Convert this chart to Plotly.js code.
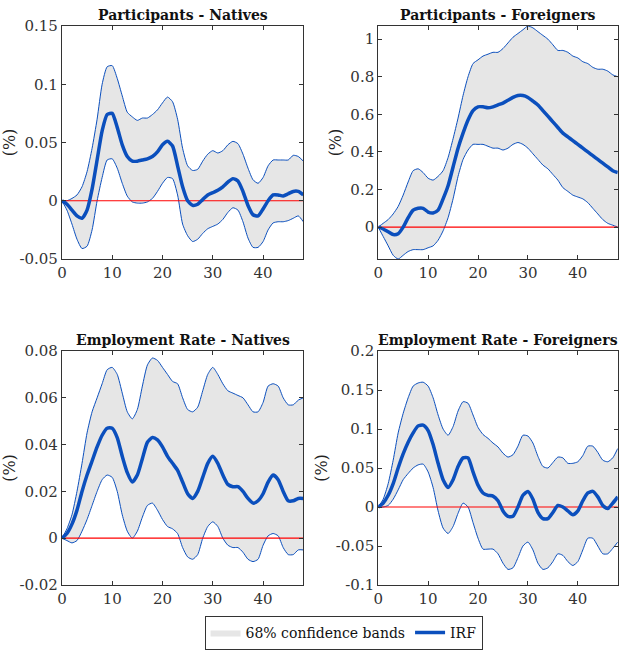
<!DOCTYPE html>
<html>
<head>
<meta charset="utf-8">
<script src="https://cdn.plot.ly/plotly-3.0.1.min.js"></script>
<style>body{margin:0}#chart{width:619px;height:650px}</style>
</head>
<body>
<div id="chart"></div>
<script>
// horizon 0..48
const steps = Array.from({length: 49}, (_, i) => i);

// Participants - Natives
const pn_irf = [0,-0.003,-0.008,-0.013,-0.015,-0.008,0.01,0.035,0.06,0.074,0.075,0.063,0.048,0.038,0.034,0.034,0.035,0.036,0.038,0.042,0.048,0.051,0.047,0.03,0.012,0,-0.004,-0.003,0.001,0.005,0.007,0.009,0.012,0.016,0.019,0.017,0.008,-0.004,-0.012,-0.013,-0.007,0,0.005,0.005,0.004,0.006,0.008,0.008,0.005];
const pn_up = [0,0,0.002,0.005,0.012,0.025,0.045,0.07,0.1,0.115,0.116,0.105,0.09,0.076,0.072,0.069,0.071,0.071,0.074,0.078,0.084,0.089,0.085,0.07,0.045,0.03,0.026,0.027,0.034,0.04,0.043,0.041,0.043,0.048,0.051,0.049,0.04,0.028,0.018,0.015,0.02,0.03,0.035,0.035,0.035,0.035,0.039,0.038,0.034];
const pn_lo = [0,-0.008,-0.02,-0.033,-0.041,-0.039,-0.025,0,0.02,0.035,0.036,0.028,0.015,0.004,-0.001,-0.002,-0.002,-0.001,0.002,0.008,0.015,0.02,0.019,0.005,-0.02,-0.03,-0.035,-0.033,-0.028,-0.024,-0.022,-0.02,-0.016,-0.01,-0.006,-0.008,-0.018,-0.032,-0.04,-0.04,-0.035,-0.025,-0.019,-0.018,-0.018,-0.017,-0.015,-0.013,-0.018];

// Participants - Foreigners
const pf_irf = [0,-0.01,-0.025,-0.04,-0.035,0,0.05,0.09,0.1,0.1,0.08,0.075,0.09,0.15,0.22,0.32,0.42,0.5,0.57,0.62,0.64,0.64,0.635,0.64,0.65,0.66,0.675,0.69,0.7,0.7,0.69,0.67,0.65,0.62,0.59,0.56,0.53,0.5,0.48,0.46,0.44,0.42,0.4,0.38,0.36,0.34,0.32,0.3,0.29];
const pf_up = [0,0.02,0.04,0.07,0.11,0.17,0.24,0.3,0.31,0.29,0.26,0.25,0.27,0.3,0.37,0.47,0.58,0.7,0.8,0.87,0.89,0.91,0.92,0.93,0.93,0.95,0.98,1.01,1.03,1.05,1.07,1.06,1.04,1.02,1.0,0.97,0.94,0.94,0.93,0.91,0.9,0.88,0.87,0.85,0.84,0.84,0.83,0.81,0.8];
const pf_lo = [0,-0.05,-0.1,-0.15,-0.17,-0.15,-0.13,-0.12,-0.12,-0.12,-0.11,-0.1,-0.07,-0.02,0.05,0.15,0.27,0.36,0.41,0.44,0.44,0.44,0.43,0.42,0.42,0.41,0.42,0.44,0.45,0.44,0.42,0.39,0.36,0.33,0.31,0.28,0.25,0.21,0.19,0.17,0.16,0.15,0.13,0.1,0.07,0.04,0.02,0.01,0];

// Employment Rate - Natives
const en_irf = [0,0.002,0.006,0.012,0.02,0.027,0.033,0.039,0.044,0.047,0.047,0.043,0.035,0.028,0.024,0.027,0.034,0.041,0.043,0.042,0.039,0.035,0.032,0.029,0.024,0.019,0.017,0.02,0.026,0.032,0.035,0.032,0.027,0.023,0.022,0.022,0.02,0.017,0.015,0.016,0.019,0.024,0.027,0.025,0.02,0.016,0.016,0.017,0.017];
const en_up = [0,0.004,0.01,0.02,0.032,0.045,0.054,0.06,0.066,0.072,0.073,0.07,0.062,0.054,0.051,0.055,0.065,0.074,0.077,0.076,0.073,0.07,0.067,0.066,0.06,0.055,0.054,0.056,0.063,0.07,0.073,0.07,0.066,0.063,0.062,0.061,0.06,0.057,0.054,0.054,0.058,0.065,0.066,0.065,0.06,0.057,0.057,0.059,0.06];
const en_lo = [0,-0.001,-0.002,-0.001,0.003,0.008,0.014,0.02,0.025,0.027,0.026,0.02,0.01,0.003,0,0.003,0.009,0.014,0.015,0.012,0.008,0.005,0.004,0.002,-0.004,-0.008,-0.009,-0.007,0,0.005,0.007,0.005,0,-0.003,-0.004,-0.004,-0.006,-0.009,-0.01,-0.009,-0.003,0.001,0.002,0.001,-0.004,-0.007,-0.007,-0.005,-0.005];

// Employment Rate - Foreigners
const ef_irf = [0,0.005,0.015,0.03,0.05,0.068,0.083,0.095,0.104,0.105,0.098,0.08,0.056,0.035,0.025,0.035,0.052,0.063,0.063,0.045,0.028,0.018,0.015,0.014,0.008,-0.005,-0.012,-0.012,0,0.015,0.02,0.01,-0.007,-0.015,-0.015,-0.007,0.002,0,-0.005,-0.01,-0.005,0.008,0.018,0.02,0.013,0.002,-0.002,0.005,0.013];
const ef_up = [0,0.01,0.03,0.06,0.095,0.12,0.14,0.155,0.159,0.16,0.155,0.14,0.118,0.1,0.092,0.103,0.123,0.135,0.133,0.118,0.102,0.093,0.088,0.082,0.077,0.069,0.064,0.067,0.078,0.092,0.091,0.082,0.065,0.052,0.05,0.057,0.064,0.063,0.056,0.056,0.058,0.066,0.078,0.078,0.07,0.06,0.058,0.063,0.075];
const ef_lo = [0,0,0.002,0.01,0.022,0.035,0.043,0.05,0.054,0.055,0.045,0.025,-0.005,-0.027,-0.034,-0.025,-0.008,0.005,0,-0.02,-0.04,-0.054,-0.054,-0.054,-0.06,-0.072,-0.08,-0.078,-0.065,-0.05,-0.045,-0.055,-0.072,-0.08,-0.078,-0.07,-0.06,-0.062,-0.07,-0.075,-0.07,-0.055,-0.04,-0.04,-0.05,-0.06,-0.06,-0.053,-0.045];

const titles = ['Participants - Natives', 'Participants - Foreigners', 'Employment Rate - Natives', 'Employment Rate - Foreigners'];
const panels = [[pn_irf, pn_up, pn_lo], [pf_irf, pf_up, pf_lo], [en_irf, en_up, en_lo], [ef_irf, ef_up, ef_lo]];

const blue = '#0b4fbd';
const font = 'DejaVu Serif';
let traces = [];

panels.forEach(function(p, i) {
  const xa = 'x' + (i ? i + 1 : '');
  const ya = 'y' + (i ? i + 1 : '');
  traces.push({
    x: steps.concat(steps.slice().reverse()),
    y: p[1].concat(p[2].slice().reverse()),
    xaxis: xa, yaxis: ya, type: 'scatter', mode: 'lines',
    fill: 'toself', fillcolor: '#e6e6e6', line: {width: 0, shape: 'spline', smoothing: 0.6},
    name: '68% confidence bands', showlegend: i === 0, hoverinfo: 'skip'
  });
  traces.push({x: steps, y: p[1], xaxis: xa, yaxis: ya, mode: 'lines', line: {color: blue, width: 1, shape: 'spline', smoothing: 0.6}, showlegend: false});
  traces.push({x: steps, y: p[2], xaxis: xa, yaxis: ya, mode: 'lines', line: {color: blue, width: 1, shape: 'spline', smoothing: 0.6}, showlegend: false});
  traces.push({x: [0, 48], y: [0, 0], xaxis: xa, yaxis: ya, mode: 'lines', line: {color: '#ff0000', width: 1.2}, showlegend: false});
  traces.push({x: steps, y: p[0], xaxis: xa, yaxis: ya, mode: 'lines', line: {color: blue, width: 3.5, shape: 'spline', smoothing: 0.6}, name: 'IRF', showlegend: i === 0});
});

function xax(dom, anchor) {
  return {domain: dom, anchor: anchor, range: [0, 48], tickvals: [0, 10, 20, 30, 40],
    showline: true, mirror: 'ticks', linecolor: '#333', ticks: 'inside', ticklen: 4,
    tickcolor: '#333', showgrid: false, zeroline: false, tickfont: {family: font, size: 15, color: '#333'}};
}
function yax(dom, anchor, range, vals, text) {
  return {domain: dom, anchor: anchor, range: range, tickvals: vals, ticktext: text,
    showline: true, mirror: 'ticks', linecolor: '#333', ticks: 'inside', ticklen: 4,
    tickcolor: '#333', showgrid: false, zeroline: false, tickfont: {family: font, size: 15, color: '#333'},
    title: {text: '(%)', font: {family: font, size: 16, color: '#222'}, standoff: 4}};
}

const xl = [0.1, 0.49], xr = [0.611, 0.998];
const yt = [0.6015, 0.96], yb = [0.1, 0.46];

const layout = {
  width: 619, height: 650,
  margin: {l: 0, r: 0, t: 0, b: 0},
  paper_bgcolor: 'white', plot_bgcolor: 'white',
  font: {family: font, color: '#222'},
  xaxis: xax(xl, 'y'), yaxis: yax(yt, 'x', [-0.05, 0.15], [-0.05, 0, 0.05, 0.1, 0.15], ['-0.05', '0', '0.05', '0.1', '0.15']),
  xaxis2: xax(xr, 'y2'), yaxis2: yax(yt, 'x2', [-0.17, 1.07], [0, 0.2, 0.4, 0.6, 0.8, 1], ['0', '0.2', '0.4', '0.6', '0.8', '1']),
  xaxis3: xax(xl, 'y3'), yaxis3: yax(yb, 'x3', [-0.02, 0.08], [-0.02, 0, 0.02, 0.04, 0.06, 0.08], ['-0.02', '0', '0.02', '0.04', '0.06', '0.08']),
  xaxis4: xax(xr, 'y4'), yaxis4: yax(yb, 'x4', [-0.1, 0.2], [-0.1, -0.05, 0, 0.05, 0.1, 0.15, 0.2], ['-0.1', '-0.05', '0', '0.05', '0.1', '0.15', '0.2']),
  legend: {orientation: 'h', x: 0.555, y: 0.0, xanchor: 'center', yanchor: 'bottom',
    bordercolor: '#333', borderwidth: 1, font: {family: font, size: 14, color: '#111'}, bgcolor: 'white'},
  annotations: titles.map(function(t, i) {
    const xd = i % 2 ? xr : xl, yd = i < 2 ? yt : yb;
    return {text: '<b>' + t + '</b>', xref: 'paper', yref: 'paper', x: (xd[0] + xd[1]) / 2, y: yd[1],
      xanchor: 'center', yanchor: 'bottom', yshift: 1, showarrow: false, font: {family: font, size: 14, color: '#111'}};
  })
};

Plotly.newPlot('chart', traces, layout, {displayModeBar: false, staticPlot: true});
</script>
</body>
</html>
